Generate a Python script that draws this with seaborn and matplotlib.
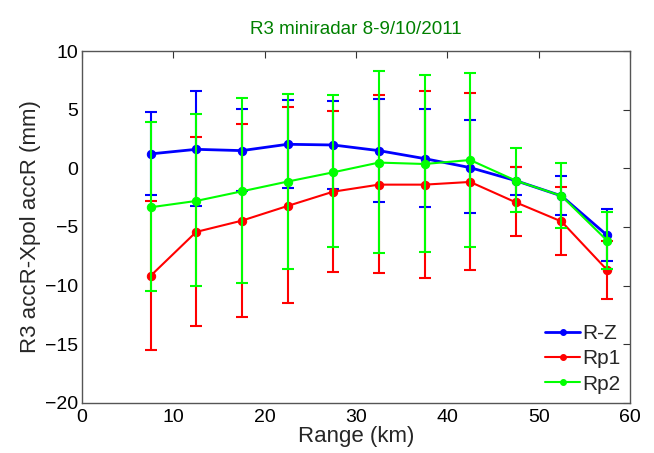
import numpy as np
import pandas as pd
import seaborn as sns
import matplotlib
matplotlib.use("Agg")
import matplotlib.pyplot as plt

sns.set_style("white")
plt.rcParams['font.family'] = ['Liberation Sans', 'DejaVu Sans']

# range bins (km)
rng = [7.5, 12.5, 17.5, 22.5, 27.5, 32.5, 37.5, 42.5, 47.5, 52.5, 57.5]

# mean values and error bar ends
rz = [1.23, 1.62, 1.51, 2.05, 1.99, 1.51, 0.83, 0.06, -1.05, -2.35, -5.71]
rz_hi = [4.83, 6.6, 5.03, 5.86, 5.71, 5.94, 5.03, 4.09, 0.12, -0.68, -3.49]
rz_lo = [-2.3, -3.24, -1.95, -1.66, -1.73, -2.87, -3.33, -3.84, -2.24, -4.0, -7.9]

rp1 = [-9.17, -5.42, -4.46, -3.21, -1.99, -1.39, -1.39, -1.16, -2.9, -4.53, -8.67]
rp1_hi = [-2.75, 2.64, 3.78, 5.2, 4.86, 6.26, 6.62, 6.43, 0.09, -1.62, -6.22]
rp1_lo = [-15.5, -13.4, -12.7, -11.5, -8.87, -8.92, -9.37, -8.7, -5.8, -7.4, -11.13]

rp2 = [-3.32, -2.78, -1.96, -1.13, -0.34, 0.49, 0.37, 0.71, -1.05, -2.35, -6.16]
rp2_hi = [3.92, 4.6, 5.97, 6.31, 6.26, 8.27, 7.96, 8.16, 1.76, 0.43, -3.75]
rp2_lo = [-10.48, -10.03, -9.8, -8.58, -6.73, -7.24, -7.13, -6.67, -3.75, -5.11, -8.58]

names = ["R-Z", "Rp1", "Rp2"]
colors = {"R-Z": "#0000ff", "Rp1": "#ff0000", "Rp2": "#00ff00"}
widths = {"R-Z": 2.0, "Rp1": 1.5, "Rp2": 1.5}

series = {"R-Z": (rz, rz_lo, rz_hi), "Rp1": (rp1, rp1_lo, rp1_hi), "Rp2": (rp2, rp2_lo, rp2_hi)}

rows = []
for n in names:
    m, lo, hi = series[n]
    for xi, yi, l, h in zip(rng, m, lo, hi):
        rows.append({"Range": xi, "val": yi, "lo": l, "hi": h, "Series": n})
df = pd.DataFrame(rows)

fig = plt.figure(figsize=(6.54, 4.53), dpi=100)
ax = fig.add_axes([0.1254, 0.1104, 0.8379, 0.777])

for k, n in enumerate(names):
    d = df[df.Series == n]
    ax.errorbar(d.Range, d.val, yerr=[d.val - d.lo, d.hi - d.val], fmt='none',
                ecolor=colors[n], elinewidth=1.5, capsize=4, capthick=1.5, zorder=2 + 2 * k)
    sns.lineplot(data=d, x="Range", y="val", color=colors[n], marker='o', markersize=6,
                 markeredgecolor=colors[n], linewidth=widths[n], label=n, ax=ax,
                 zorder=3 + 2 * k)

ax.set_xlim(0, 60)
ax.set_ylim(-20, 10)
ax.set_xticks(range(0, 61, 10))
ax.set_yticks(range(-20, 11, 5))
ax.set_xlabel("Range (km)", fontsize=16, labelpad=0)
ax.set_ylabel("R3 accR-Xpol accR (mm)", fontsize=16, labelpad=3)
ax.set_title("R3 miniradar 8-9/10/2011", fontsize=13.5, color="#008000", pad=12)
ax.tick_params(axis='both', direction='in', length=5, width=0.8, colors='#333333',
               labelcolor='black', labelsize=14, top=True, right=True)
ax.tick_params(axis='x', pad=4)
ax.tick_params(axis='y', pad=3)
for s in ax.spines.values():
    s.set_color('#555555')
    s.set_linewidth(1.0)

ax.legend(loc='lower right', frameon=False, fontsize=15, handlelength=1.7,
          handletextpad=0.1, labelspacing=0.3, borderaxespad=0.05, markerscale=0.7)

plt.savefig("out.png", dpi=100)
